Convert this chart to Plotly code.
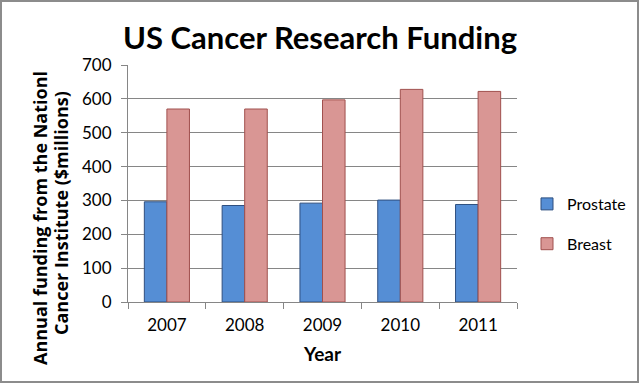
import plotly.graph_objects as go

years = ["2007", "2008", "2009", "2010", "2011"]
prostate = [296, 285, 292, 301, 288]
breast = [570, 570, 597, 628, 622]
y_ticks = [0, 100, 200, 300, 400, 500, 600, 700]

W, H = 640, 385
L, R, T, B = 128, 123, 65, 83
pw, ph = W - L - R, H - T - B

fig = go.Figure()
fig.add_trace(go.Bar(name="Prostate", x=years, y=prostate, legendgroup="p",
                     marker=dict(color="#558ED5", line=dict(color="#2F4F7F", width=1))))
fig.add_trace(go.Bar(name="Breast", x=years, y=breast, legendgroup="b",
                     marker=dict(color="#D99694", line=dict(color="#A0504E", width=1))))

font = "Lato, 'Open Sans', sans-serif"
yfont = "'Open Sans', Lato, sans-serif"

def px_x(p):
    return (p - L) / pw

def px_y(p):
    return 1 - (p - T) / ph

fig.update_layout(
    width=W, height=H,
    margin=dict(l=L, r=R, t=T, b=B, autoexpand=False),
    paper_bgcolor="white", plot_bgcolor="white",
    barmode="group", bargap=0.42, bargroupgap=0,
    font=dict(family=font, color="#000000"),
    title=dict(text="<b>US Cancer Research Funding</b>", x=0.5, xanchor="center",
               y=1 - 38 / H, yanchor="middle", font=dict(size=31, family=font)),
    showlegend=True,
    legend=dict(x=px_x(527), xanchor="left", y=px_y(224), yanchor="middle",
                font=dict(size=16, family=font), itemwidth=30, tracegroupgap=16,
                traceorder="grouped", bgcolor="rgba(0,0,0,0)"),
    xaxis=dict(tickfont=dict(size=17, family=font), automargin=False, ticklabelstandoff=8,
               showline=True, linecolor="#868686", linewidth=1,
               ticks="outside", tickson="boundaries", ticklen=6, tickcolor="#868686"),
    yaxis=dict(range=[0, 700], tickvals=y_ticks, tickfont=dict(size=17, family=font),
               automargin=False, ticklabelstandoff=6,
               showgrid=True, gridcolor="#868686", gridwidth=1,
               showline=True, linecolor="#868686", linewidth=1,
               ticks="outside", ticklen=6, tickcolor="#868686", zeroline=False),
    annotations=[
        dict(text="<b>Annual funding from the Nationl</b>",
             xref="paper", yref="paper", x=px_x(40), y=px_y(218),
             xanchor="center", yanchor="middle", textangle=-90, showarrow=False,
             font=dict(size=18, family=yfont)),
        dict(text="<b>Cancer Institute ($millions)</b>",
             xref="paper", yref="paper", x=px_x(61), y=px_y(213),
             xanchor="center", yanchor="middle", textangle=-90, showarrow=False,
             font=dict(size=18, family=yfont)),
        dict(text="<b>Year</b>",
             xref="paper", yref="paper", x=px_x(322), y=px_y(353),
             xanchor="center", yanchor="middle", showarrow=False,
             font=dict(size=19, family=font)),
    ],
)
fig.add_shape(type="rect", xref="paper", yref="paper",
              x0=-(L - 1) / pw, x1=1 + (R - 2) / pw,
              y0=-(B - 3) / ph, y1=1 + (T - 1) / ph,
              line=dict(color="#8C8C8C", width=2))

fig.write_html("out.html", config={"displayModeBar": False},
               post_script="document.body.style.margin='0';")
